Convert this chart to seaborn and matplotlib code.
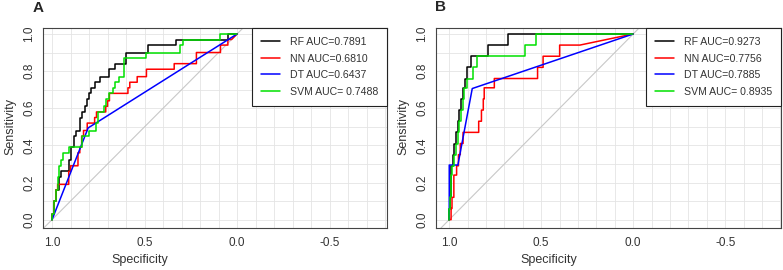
import numpy as np
import pandas as pd
import seaborn as sns
import matplotlib.pyplot as plt
from matplotlib.ticker import MultipleLocator, FixedLocator

# ---- panel A : ROC vertices (specificity, sensitivity) ----
rf_a_spec = [1.00, 1.00, 0.99, 0.99, 0.98, 0.98, 0.96, 0.96, 0.95, 0.95, 0.91, 0.91, 0.90, 0.90,
             0.88, 0.88, 0.87, 0.87, 0.85, 0.85, 0.84, 0.84, 0.82, 0.82, 0.81, 0.81, 0.80, 0.80,
             0.79, 0.79, 0.77, 0.77, 0.74, 0.74, 0.69, 0.69, 0.66, 0.66, 0.60, 0.60, 0.48, 0.48,
             0.33, 0.33, 0.05, 0.05, 0.00]
rf_a_sens = [0.00, 0.03, 0.03, 0.10, 0.10, 0.16, 0.16, 0.23, 0.23, 0.26, 0.26, 0.32, 0.32, 0.39,
             0.39, 0.45, 0.45, 0.48, 0.48, 0.55, 0.55, 0.58, 0.58, 0.61, 0.61, 0.65, 0.65, 0.68,
             0.68, 0.71, 0.71, 0.74, 0.74, 0.77, 0.77, 0.81, 0.81, 0.84, 0.84, 0.90, 0.90, 0.94,
             0.94, 0.97, 0.97, 1.00, 1.00]

nn_a_spec = [1.00, 1.00, 0.99, 0.99, 0.98, 0.98, 0.97, 0.97, 0.91, 0.91, 0.90, 0.90, 0.86, 0.86,
             0.85, 0.85, 0.84, 0.84, 0.83, 0.83, 0.81, 0.81, 0.77, 0.77, 0.76, 0.76, 0.71, 0.71,
             0.70, 0.70, 0.69, 0.69, 0.59, 0.59, 0.58, 0.58, 0.54, 0.54, 0.49, 0.49, 0.34, 0.34,
             0.22, 0.22, 0.09, 0.09, 0.05, 0.05, 0.03, 0.00]
nn_a_sens = [0.00, 0.03, 0.03, 0.10, 0.10, 0.16, 0.16, 0.19, 0.19, 0.26, 0.26, 0.29, 0.29, 0.36,
             0.36, 0.39, 0.39, 0.45, 0.45, 0.48, 0.48, 0.52, 0.52, 0.55, 0.55, 0.58, 0.58, 0.61,
             0.61, 0.64, 0.64, 0.68, 0.68, 0.71, 0.71, 0.74, 0.74, 0.77, 0.77, 0.81, 0.81, 0.84,
             0.84, 0.90, 0.90, 0.94, 0.94, 0.97, 0.97, 1.00]

dt_a_spec = [1.00, 0.805, 0.00]
dt_a_sens = [0.00, 0.494, 1.00]

svm_a_spec = [1.00, 1.00, 0.99, 0.99, 0.98, 0.98, 0.97, 0.97, 0.96, 0.96, 0.95, 0.95, 0.94, 0.94,
              0.91, 0.91, 0.84, 0.84, 0.80, 0.80, 0.76, 0.76, 0.75, 0.75, 0.72, 0.72, 0.71, 0.71,
              0.69, 0.69, 0.67, 0.67, 0.66, 0.66, 0.64, 0.64, 0.61, 0.61, 0.49, 0.49, 0.31, 0.31,
              0.29, 0.29, 0.09, 0.09, 0.00]
svm_a_sens = [0.00, 0.03, 0.03, 0.10, 0.10, 0.16, 0.16, 0.23, 0.23, 0.29, 0.29, 0.32, 0.32, 0.36,
              0.36, 0.39, 0.39, 0.45, 0.45, 0.48, 0.48, 0.52, 0.52, 0.58, 0.58, 0.61, 0.61, 0.65,
              0.65, 0.68, 0.68, 0.71, 0.71, 0.74, 0.74, 0.77, 0.77, 0.87, 0.87, 0.90, 0.90, 0.94,
              0.94, 0.97, 0.97, 1.00, 1.00]

# ---- panel B ----
rf_b_spec = [1.00, 1.00, 0.995, 0.995, 0.99, 0.99, 0.98, 0.98, 0.975, 0.975, 0.965, 0.965, 0.955,
             0.955, 0.945, 0.945, 0.935, 0.935, 0.925, 0.925, 0.915, 0.915, 0.905, 0.905, 0.88,
             0.88, 0.79, 0.79, 0.68, 0.68, 0.00]
rf_b_sens = [0.00, 0.06, 0.06, 0.12, 0.12, 0.29, 0.29, 0.35, 0.35, 0.41, 0.41, 0.47, 0.47,
             0.53, 0.53, 0.59, 0.59, 0.65, 0.65, 0.71, 0.71, 0.76, 0.76, 0.82, 0.82,
             0.88, 0.88, 0.94, 0.94, 1.00, 1.00]

nn_b_spec = [1.00, 0.99, 0.99, 0.985, 0.985, 0.975, 0.975, 0.96, 0.96, 0.95, 0.95, 0.94, 0.94,
             0.925, 0.925, 0.84, 0.84, 0.825, 0.825, 0.815, 0.815, 0.81, 0.81, 0.755, 0.755,
             0.52, 0.52, 0.49, 0.49, 0.40, 0.40, 0.29, 0.00]
nn_b_sens = [0.00, 0.00, 0.06, 0.06, 0.12, 0.12, 0.24, 0.24, 0.29, 0.29, 0.35, 0.35, 0.41,
             0.41, 0.47, 0.47, 0.53, 0.53, 0.59, 0.59, 0.65, 0.65, 0.71, 0.71, 0.76,
             0.76, 0.82, 0.82, 0.88, 0.88, 0.94, 0.94, 1.00]

dt_b_spec = [1.00, 1.00, 0.953, 0.875, 0.00]
dt_b_sens = [0.00, 0.294, 0.294, 0.706, 1.00]

svm_b_spec = [1.00, 1.00, 0.995, 0.995, 0.99, 0.99, 0.985, 0.985, 0.975, 0.975, 0.965, 0.965,
              0.955, 0.955, 0.945, 0.945, 0.935, 0.935, 0.925, 0.925, 0.92, 0.92, 0.905, 0.905,
              0.87, 0.87, 0.85, 0.85, 0.59, 0.59, 0.53, 0.53, 0.00]
svm_b_sens = [0.00, 0.06, 0.06, 0.12, 0.12, 0.24, 0.24, 0.29, 0.29, 0.35, 0.35, 0.41,
              0.41, 0.47, 0.47, 0.53, 0.53, 0.59, 0.59, 0.65, 0.65, 0.71, 0.71, 0.76,
              0.76, 0.82, 0.82, 0.88, 0.88, 0.94, 0.94, 1.00, 1.00]

labels_a = ["RF AUC=0.7891", "NN AUC=0.6810", "DT AUC=0.6437", "SVM AUC= 0.7488"]
labels_b = ["RF AUC=0.9273", "NN AUC=0.7756", "DT AUC=0.7885", "SVM AUC= 0.8935"]
colors = ["black", "#ff0000", "#0000ff", "#00e000"]
x_ticks = [1.0, 0.5, 0.0, -0.5]
y_ticks = [0.0, 0.2, 0.4, 0.6, 0.8, 1.0]

sns.set_style("white")
plt.rcParams["font.family"] = ["Liberation Sans", "DejaVu Sans"]

fig = plt.figure(figsize=(7.83, 2.70), dpi=100)
W, H = 783, 270
ax_a = fig.add_axes([43 / W, 42 / H, 344 / W, 200 / H])
ax_b = fig.add_axes([436 / W, 42 / H, 345 / W, 200 / H])


def draw_panel(ax, curves, labels, xlim, xlab_x, ylab_x):
    ax.axline((1, 0), (0, 1), color="#c8c8c8", lw=0.8, zorder=1)
    for (sp, se), lab, col in zip(curves, labels, colors):
        sns.lineplot(x=sp, y=se, sort=False, estimator=None, color=col, lw=1.1,
                     label=lab, ax=ax, zorder=3)
    ax.set_xlim(*xlim)
    ax.set_ylim(-0.045, 1.032)
    ax.xaxis.set_major_locator(FixedLocator(x_ticks))
    ax.yaxis.set_major_locator(FixedLocator(y_ticks))
    ax.xaxis.set_minor_locator(MultipleLocator(0.1))
    ax.yaxis.set_minor_locator(MultipleLocator(0.1))
    ax.set_xticklabels(["1.0", "0.5", "0.0", "-0.5"])
    ax.set_yticklabels(["0.0", "0.2", "0.4", "0.6", "0.8", "1.0"])
    ax.grid(True, which="both", color="#e4e4e4", lw=0.6)
    ax.set_axisbelow(True)
    ax.tick_params(axis="both", which="major", direction="out", length=3.5, width=0.7,
                   color="#333333", labelsize=8.5, labelcolor="#333333")
    ax.tick_params(axis="x", pad=3)
    ax.tick_params(axis="y", labelrotation=90, pad=2)
    for t in ax.get_yticklabels():
        t.set_verticalalignment("center")
    ax.tick_params(which="minor", length=0)
    for s in ax.spines.values():
        s.set_color("#444444")
        s.set_linewidth(0.8)
    ax.set_xlabel("Specificity", fontsize=9, color="#333333")
    ax.set_ylabel("Sensitivity", fontsize=9, color="#333333")
    ax.xaxis.set_label_coords(xlab_x, -0.132)
    ax.yaxis.set_label_coords(ylab_x, 0.506)
    leg = ax.legend(loc="upper right", borderaxespad=0, fancybox=False, framealpha=1,
                    edgecolor="#222222", fontsize=7.6, handlelength=1.8, handletextpad=0.9,
                    labelspacing=0.62, borderpad=0.85)
    leg.get_frame().set_linewidth(0.8)
    for t in leg.get_texts():
        t.set_color("#333333")


draw_panel(ax_a, [(rf_a_spec, rf_a_sens), (nn_a_spec, nn_a_sens), (dt_a_spec, dt_a_sens),
                  (svm_a_spec, svm_a_sens)], labels_a, (1.049, -0.81), 0.282, -0.078)
draw_panel(ax_b, [(rf_b_spec, rf_b_sens), (nn_b_spec, nn_b_sens), (dt_b_spec, dt_b_sens),
                  (svm_b_spec, svm_b_sens)], labels_b, (1.072, -0.803), 0.327, -0.078)

fig.text(38 / W, 1 - 8 / H, "A", ha="center", va="center", fontsize=11, fontweight="bold")
fig.text(441 / W, 1 - 7 / H, "B", ha="center", va="center", fontsize=11, fontweight="bold")

fig.savefig("out.png", dpi=100, facecolor="white")
